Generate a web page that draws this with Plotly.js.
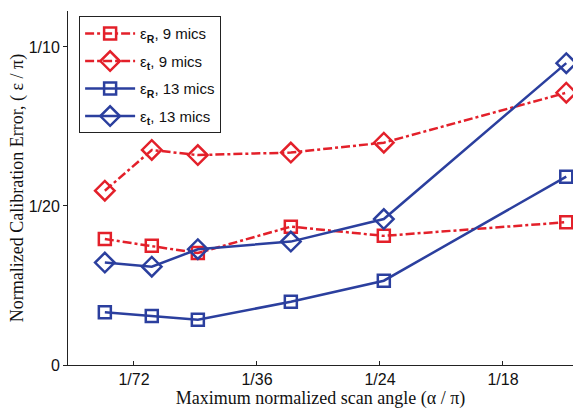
<!DOCTYPE html>
<html>
<head>
<meta charset="utf-8">
<script src="https://cdn.plot.ly/plotly-3.0.1.min.js"></script>
<style>body{margin:0;padding:0;background:#fff}#chart{width:573px;height:410px}</style>
</head>
<body>
<div id="chart"></div>
<script>
// Maximum normalized scan angle (alpha / pi)
var scanAngle = [0.0106, 0.0159, 0.0211, 0.0316, 0.0421, 0.0627];
// Normalized calibration error (epsilon / pi)
var errR9  = [0.0396, 0.0375, 0.0352, 0.0435, 0.0406, 0.0449];
var errT9  = [0.0548, 0.0676, 0.0660, 0.0668, 0.0699, 0.0856];
var errR13 = [0.0166, 0.0154, 0.0142, 0.0199, 0.0265, 0.0592];
var errT13 = [0.0322, 0.0309, 0.0364, 0.0388, 0.0459, 0.0949];
var seriesNames = ['ε<sub><b>R</b></sub>, 9 mics', 'ε<sub><b>t</b></sub>, 9 mics',
                   'ε<sub><b>R</b></sub>, 13 mics', 'ε<sub><b>t</b></sub>, 13 mics'];
var xTickVals = [1/72, 1/36, 1/24, 1/18];
var xTickText = ['1/72', '1/36', '1/24', '1/18'];
var yTickVals = [0, 0.05, 0.1];
var yTickText = ['0', '1/20', '1/10'];

var red = '#e3202a', blue = '#2b3f9e';
function tr(y, name, color, dash, symbol, size, g) {
  return {
    x: scanAngle, y: y, name: name, type: 'scatter', mode: 'lines+markers',
    legendgroup: g, cliponaxis: false,
    line: {color: color, width: 2.5, dash: dash},
    marker: {symbol: symbol, size: size, color: color, line: {color: color, width: 2.5}}
  };
}
var data = [
  tr(errR9, seriesNames[0], red, 'dashdot', 'square-open', 12, 'a'),
  tr(errT9, seriesNames[1], red, 'dashdot', 'diamond-open', 15, 'b'),
  tr(errR13, seriesNames[2], blue, 'solid', 'square-open', 12, 'c'),
  tr(errT13, seriesNames[3], blue, 'solid', 'diamond-open', 15, 'd')
];
var layout = {
  width: 573, height: 410,
  margin: {l: 68, r: 0, t: 11, b: 45},
  paper_bgcolor: '#fff', plot_bgcolor: '#fff',
  showlegend: true,
  legend: {
    x: 0.022, y: 0.985, xanchor: 'left', yanchor: 'top',
    bgcolor: '#fff', bordercolor: '#222', borderwidth: 1,
    font: {family: 'Arial, Liberation Sans, sans-serif', size: 15, color: '#111'},
    tracegroupgap: 5, itemwidth: 50
  },
  xaxis: {
    range: [0.00644, 0.06346], showgrid: false, zeroline: false,
    showline: true, linecolor: '#222', linewidth: 1,
    tickmode: 'array', tickvals: xTickVals, ticktext: xTickText,
    ticks: 'inside', ticklen: 4, tickcolor: '#222',
    tickfont: {family: 'Arial, Liberation Sans, sans-serif', size: 16, color: '#111'},
    title: {text: 'Maximum normalized scan angle (α / π)', standoff: 2,
            font: {family: 'Times New Roman, Liberation Serif, serif', size: 18, color: '#111'}}
  },
  yaxis: {
    range: [0, 0.1113], showgrid: false, zeroline: false,
    showline: true, linecolor: '#222', linewidth: 1,
    tickmode: 'array', tickvals: yTickVals, ticktext: yTickText,
    ticks: 'outside', ticklen: 4, tickcolor: '#222',
    tickfont: {family: 'Arial, Liberation Sans, sans-serif', size: 16, color: '#111'},
    title: {text: 'Normalized Calibration Error, ( ε / π)', standoff: 0,
            font: {family: 'Times New Roman, Liberation Serif, serif', size: 18, color: '#111'}}
  }
};
Plotly.newPlot('chart', data, layout, {displayModeBar: false, staticPlot: true});
</script>
</body>
</html>
